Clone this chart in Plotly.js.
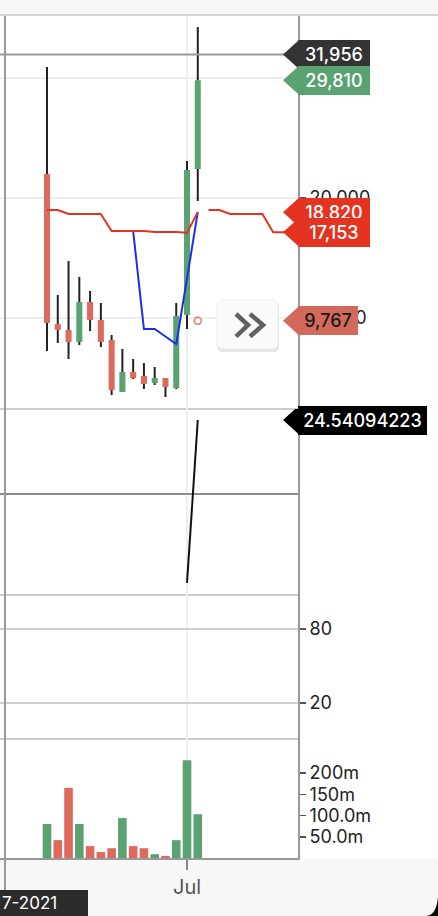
<!DOCTYPE html>
<html><head><meta charset="utf-8">
<script src="https://cdn.plot.ly/plotly-3.0.1.min.js"></script>
<style>html,body{margin:0;padding:0;background:#fff;overflow:hidden}#chart{width:438px;height:916px}</style>
</head><body><div id="chart"></div>
<script>
// ---------- data ----------
const dates = ['2021-06-18','2021-06-19','2021-06-20','2021-06-21','2021-06-22','2021-06-23','2021-06-24','2021-06-25','2021-06-26','2021-06-27','2021-06-28','2021-06-29','2021-06-30','2021-07-01','2021-07-02'];
const openP  = [22000, 9500, 9000, 8000, 11333, 9833, 8167, 3833, 5500, 5167, 4583, 5000, 4167, 10250, 22417];
const highP  = [30917, 11917, 14750, 13417, 12250, 11250, 8583, 7417, 6583, 6250, 5917, 5000, 11250, 23083, 34250];
const lowP   = [7250, 7917, 6583, 7750, 8917, 7583, 3583, 3833, 4917, 4083, 4417, 3417, 4083, 9083, 19750];
const closeP = [9583, 9000, 8000, 11333, 9833, 8000, 4000, 5500, 5000, 4500, 5000, 4250, 10167, 22333, 29810];
const volumeM = [80, 42, 165, 80, 28, 14, 23, 94, 28, 23, 9, 5, 42, 230, 103];

const redLine = [19000, 19000, 18667, 18667, 18667, 18667, 17250, 17250, 17250, 17250, 17167, 17167, 17167, 17100, 18820];
const fwdDates = ['2021-07-03','2021-07-04','2021-07-05','2021-07-06','2021-07-07','2021-07-08','2021-07-09','2021-07-10','2021-07-11','2021-07-12'];
const redLineFwd = [19000, 19000, 18667, 18667, 18667, 18667, 17153, 17153, 17153, 17153];

const blueDates = ['2021-06-24','2021-06-25','2021-06-26','2021-06-27','2021-06-28','2021-06-29','2021-06-30','2021-07-01','2021-07-02'];
const blueLine  = [17250, 17250, 17250, 9083, 9083, 8458, 7833, 13300, 18820];

const sarDates = ['2021-07-02'];
const sarValues = [9767];

const oscDates = ['2021-07-01','2021-07-02'];
const oscValues = [-29.5, 24.54094223];

const crosshairPrice = 31956;
const priceTicks = [10000, 20000, 30000];
const rsiTicks = [20, 80];
const volTickVals = [50, 100, 150, 200];
const volTickText = ['50.0m', '100.0m', '150m', '200m'];
const xTickVals = ['2021-07-01'];
const xTickText = ['Jul'];
const crossDateText = '7-2021';

// ---------- geometry helpers ----------
const W = 438, H = 916;
const px = p => p / W;
const py = p => 1 - p / H;
const DAY = 86400000;
const base = Date.UTC(2021, 5, 18);
const pxPerDay = 10.77;
const plotRight = 298;

const GREEN = '#5aa271', RED = '#dd6a5d', LINE_RED = '#e53322', BLUE = '#1a2ef0';
const FONT = 'Inter, "Open Sans", sans-serif';

const mainRange = [2417, 35167];
const oscRange = [-33.5, 28.2];
const rsiRange = [-9.2, 107.6];
const volRange = [0, 280];

// ---------- traces ----------
const up = closeP.map((c, i) => c >= openP[i]);
const bodyBase = openP.map((o, i) => Math.min(o, closeP[i]));
const bodyLen = openP.map((o, i) => Math.abs(closeP[i] - o));
const wickX = [], wickY = [];
dates.forEach((d, i) => {
  const top = Math.max(openP[i], closeP[i]), bot = Math.min(openP[i], closeP[i]);
  wickX.push(d, d, null, d, d, null);
  wickY.push(highP[i], top, null, bot, lowP[i], null);
});
const volUp = closeP.map((c, i) => i === 0 ? true : c >= closeP[i - 1]);

const traces = [
  {type:'bar', x:dates, y:bodyLen, base:bodyBase, width:0.56*DAY,
   marker:{color:up.map(u => u ? GREEN : RED), line:{width:0}}, xaxis:'x', yaxis:'y', hoverinfo:'skip'},
  {type:'scatter', mode:'lines', x:wickX, y:wickY, line:{color:'#222', width:2}, xaxis:'x', yaxis:'y', hoverinfo:'skip'},
  {type:'scatter', mode:'lines', x:blueDates, y:blueLine, line:{color:BLUE, width:2}, xaxis:'x', yaxis:'y'},
  {type:'scatter', mode:'lines', x:dates, y:redLine, line:{color:LINE_RED, width:2}, xaxis:'x', yaxis:'y'},
  {type:'scatter', mode:'lines', x:fwdDates, y:redLineFwd, line:{color:LINE_RED, width:2}, xaxis:'x', yaxis:'y'},
  {type:'scatter', mode:'markers', x:sarDates, y:sarValues, marker:{symbol:'circle-open', size:7, color:'#e07a6c', line:{width:1.5}}, xaxis:'x', yaxis:'y'},
  {type:'scatter', mode:'lines', x:oscDates, y:oscValues, line:{color:'#111', width:2}, xaxis:'x', yaxis:'y2'},
  {type:'scatter', mode:'lines', x:[], y:[], xaxis:'x', yaxis:'y3'},
  {type:'bar', x:dates, y:volumeM, width:0.8*DAY,
   marker:{color:volUp.map(u => u ? GREEN : RED), line:{width:0}}, xaxis:'x', yaxis:'y4'}
];

// ---------- axes ----------
const tickFont = {family:FONT, size:18, color:'#222'};
function yax(domTopPx, domBotPx, range, extra) {
  return Object.assign({
    domain:[py(domBotPx), py(domTopPx)], range:range, side:'right', anchor:'x',
    showline:true, linecolor:'#999', linewidth:2, zeroline:false, fixedrange:true,
    ticks:'outside', ticklen:6, tickcolor:'#555', tickwidth:1.5, tickfont:tickFont
  }, extra);
}

const layout = {
  width:W, height:H, margin:{l:0, r:0, t:0, b:0},
  paper_bgcolor:'#fff', plot_bgcolor:'rgba(0,0,0,0)', showlegend:false,
  font:{family:FONT},
  xaxis:{domain:[0, px(plotRight)], type:'date', anchor:'y4',
    range:[base - 47 / pxPerDay * DAY, base + (plotRight - 47) / pxPerDay * DAY],
    tickvals:xTickVals, ticktext:xTickText, ticks:'outside', ticklen:10, tickwidth:2, tickcolor:'#888',
    tickfont:{family:FONT, size:20, color:'#555'},
    showgrid:true, gridcolor:'#eeeeee', gridwidth:2, showline:true, linecolor:'#999', linewidth:2, zeroline:false},
  yaxis: yax(16, 409, mainRange, {tickvals:priceTicks, tickformat:',d', showgrid:true, gridcolor:'#eeeeee', gridwidth:2}),
  yaxis2: yax(409, 595, oscRange, {showticklabels:false, ticks:'', showgrid:false, zeroline:true, zerolinecolor:'#8c8c8c', zerolinewidth:2}),
  yaxis3: yax(595, 739, rsiRange, {tickvals:rsiTicks, showgrid:true, gridcolor:'#d0d0d0', gridwidth:2}),
  yaxis4: yax(739, 858, volRange, {tickvals:volTickVals, ticktext:volTickText, showgrid:false}),
  shapes:[], annotations:[]
};

const S = layout.shapes, A = layout.annotations;
// background bands
S.push({type:'rect', xref:'paper', yref:'paper', x0:0, x1:1, y0:py(15), y1:1, fillcolor:'#f7f7f7', line:{width:0}, layer:'below'});
S.push({type:'line', xref:'paper', yref:'paper', x0:0, x1:1, y0:py(15), y1:py(15), line:{color:'#d5d5da', width:2}, layer:'below'});
S.push({type:'rect', xref:'paper', yref:'paper', x0:0, x1:1, y0:0, y1:py(859), fillcolor:'#f7f7f7', line:{width:0}, layer:'below'});
// pane separators
[409, 595, 739].forEach(p => S.push({type:'line', xref:'paper', yref:'paper', x0:0, x1:px(plotRight), y0:py(p), y1:py(p), line:{color:'#cccccc', width:2}, layer:'below'}));
// crosshair
S.push({type:'line', xref:'paper', yref:'y', x0:0, x1:px(plotRight), y0:crosshairPrice, y1:crosshairPrice, line:{color:'#999', width:2}});
S.push({type:'line', xref:'paper', yref:'paper', x0:px(5), x1:px(5), y0:0, y1:py(16), line:{color:'#999', width:2}});

// price labels
const mainUPP = (mainRange[1] - mainRange[0]) / (409 - 16);
const oscUPP = (oscRange[1] - oscRange[0]) / (595 - 409);
const labels = [
  {v:crosshairPrice, yref:'y', upp:mainUPP, text:crosshairPrice.toLocaleString('en-US'), bg:'#333333', fg:'#fff', right:370},
  {v:closeP[closeP.length-1], yref:'y', upp:mainUPP, text:closeP[closeP.length-1].toLocaleString('en-US'), bg:GREEN, fg:'#fff', right:370},
  {v:redLine[redLine.length-1], yref:'y', upp:mainUPP, text:redLine[redLine.length-1].toLocaleString('en-US'), bg:LINE_RED, fg:'#fff', right:370},
  {v:redLineFwd[redLineFwd.length-1], yref:'y', upp:mainUPP, text:redLineFwd[redLineFwd.length-1].toLocaleString('en-US'), bg:LINE_RED, fg:'#fff', right:370},
  {v:sarValues[0], yref:'y', upp:mainUPP, text:sarValues[0].toLocaleString('en-US'), bg:'#d3695b', fg:'#1a1a1a', right:358},
  {v:oscValues[oscValues.length-1], yref:'y2', upp:oscUPP, text:String(oscValues[oscValues.length-1]), bg:'#000', fg:'#fff', right:427}
];
labels.forEach(L => {
  const h = 14.5 * L.upp;
  S.push({type:'path', xref:'paper', yref:L.yref, fillcolor:L.bg, line:{width:0},
    path:`M ${px(283)},${L.v} L ${px(299)},${L.v + h} L ${px(299)},${L.v - h} Z`});
  A.push({xref:'paper', yref:L.yref, x:px(298), y:L.v, xanchor:'left', yanchor:'middle', showarrow:false,
    text:L.text, bgcolor:L.bg, width:L.right - 298, height:29, borderpad:0, borderwidth:0,
    align:'center', valign:'middle', font:{family:FONT, size:18, color:L.fg, weight:500}});
});

// ">>" button
function rrect(x0, y0, x1, y1, r) {
  return `M ${px(x0+r)},${py(y0)} L ${px(x1-r)},${py(y0)} Q ${px(x1)},${py(y0)} ${px(x1)},${py(y0+r)} L ${px(x1)},${py(y1-r)} Q ${px(x1)},${py(y1)} ${px(x1-r)},${py(y1)} L ${px(x0+r)},${py(y1)} Q ${px(x0)},${py(y1)} ${px(x0)},${py(y1-r)} L ${px(x0)},${py(y0+r)} Q ${px(x0)},${py(y0)} ${px(x0+r)},${py(y0)} Z`;
}
S.push({type:'path', xref:'paper', yref:'paper', path:rrect(217, 302, 279, 352, 6), fillcolor:'rgba(0,0,0,0.10)', line:{width:0}});
S.push({type:'path', xref:'paper', yref:'paper', path:rrect(217, 300, 278, 349, 6), fillcolor:'#fafafa', line:{color:'#ececec', width:1}});
[[236, 248], [250, 263]].forEach(([a, b]) => S.push({type:'path', xref:'paper', yref:'paper',
  path:`M ${px(a)},${py(314)} L ${px(b)},${py(325)} L ${px(a)},${py(336.5)}`, fillcolor:'rgba(0,0,0,0)', line:{color:'#606060', width:4.5}}));

// crosshair date label
S.push({type:'rect', xref:'paper', yref:'paper', x0:0, x1:px(88), y0:0, y1:py(890), fillcolor:'#2b2b2b', line:{width:0}});
A.push({xref:'paper', yref:'paper', x:0, y:py(903), xanchor:'left', yanchor:'middle', showarrow:false,
  text:crossDateText, font:{family:FONT, size:17, color:'#fff'}});
// device corner
S.push({type:'path', xref:'paper', yref:'paper', path:`M ${px(438)},${py(896)} Q ${px(437)},${py(915)} ${px(426)},${py(916)} L ${px(438)},${py(916)} Z`, fillcolor:'#000', line:{width:0}});

Plotly.newPlot('chart', traces, layout, {staticPlot:true, displayModeBar:false});
</script></body></html>
